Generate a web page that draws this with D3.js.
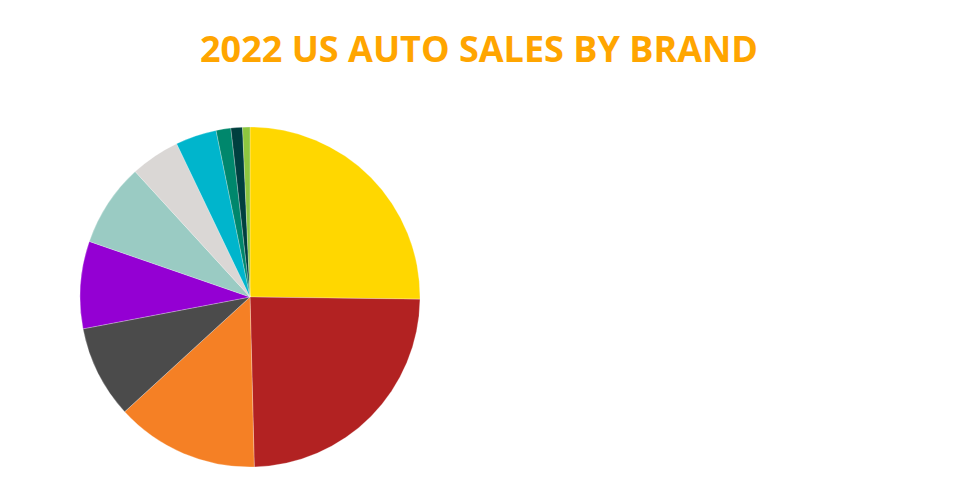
<!DOCTYPE html>
<html>
<head>
<meta charset="utf-8">
<script src="https://cdn.jsdelivr.net/npm/d3@7"></script>
<style>
  html, body { margin: 0; padding: 0; background: #fff; }
  svg { display: block; }
</style>
</head>
<body>
<svg id="chart" width="960" height="500"></svg>
<script>
const title = "2022 US AUTO SALES BY BRAND";
const brands = ["Brand A", "Brand B", "Brand C", "Brand D", "Brand E", "Brand F", "Brand G", "Brand H", "Brand I", "Brand J", "Brand K"];
const shares = [25.2, 24.4, 13.6, 8.8, 8.3, 7.9, 4.7, 3.9, 1.4, 1.1, 0.7];
const colors = ["#FFD700", "#B22222", "#F58025", "#4B4B4B", "#9400D3", "#9ACBC3", "#DAD7D5", "#00B5CC", "#00876C", "#003F3F", "#8DC63F"];

const svg = d3.select("#chart");
const W = 960, H = 500;
const cx = 250, cy = 297, r = 170;

svg.append("text")
  .attr("x", W / 2 - 1)
  .attr("y", 62)
  .attr("text-anchor", "middle")
  .attr("font-family", "'Open Sans', sans-serif")
  .attr("font-weight", 700)
  .attr("font-size", 36)
  .attr("fill", "#FFA500")
  .text(title);

const data = brands.map((b, i) => ({ brand: b, value: shares[i], color: colors[i] }));
const pie = d3.pie().value(d => d.value).sort(null);
const arc = d3.arc().innerRadius(0).outerRadius(r);

svg.append("g")
  .attr("transform", `translate(${cx},${cy})`)
  .selectAll("path")
  .data(pie(data))
  .join("path")
  .attr("d", arc)
  .attr("fill", d => d.data.color)
  .attr("stroke", "#ffffff")
  .attr("stroke-width", 0.25)
  .append("title")
  .text(d => `${d.data.brand}: ${d.data.value}%`);
</script>
</body>
</html>
